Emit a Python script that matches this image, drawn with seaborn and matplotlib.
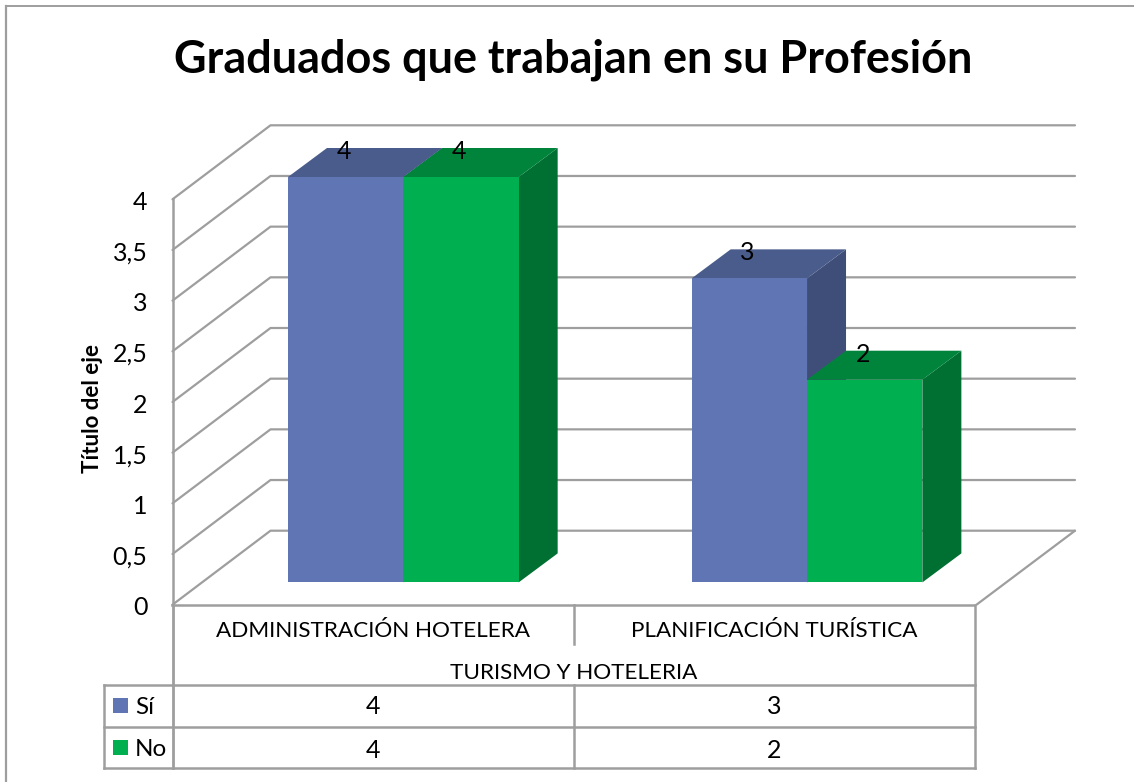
import matplotlib
matplotlib.use("Agg")
import matplotlib.pyplot as plt
import pandas as pd
import seaborn as sns
from matplotlib.lines import Line2D
from matplotlib.patches import Polygon, Rectangle
from matplotlib.transforms import Affine2D, IdentityTransform

categories = ["ADMINISTRACIÓN HOTELERA", "PLANIFICACIÓN TURÍSTICA"]
group_label = "TURISMO Y HOTELERIA"
series_names = ["Sí", "No"]
si_values = [4, 3]
no_values = [4, 2]
y_ticks = [0, 0.5, 1, 1.5, 2, 2.5, 3, 3.5, 4]
y_tick_labels = ["0", "0,5", "1", "1,5", "2", "2,5", "3", "3,5", "4"]
title = "Graduados que trabajan en su Profesión"
y_title = "Título del eje"

colors = {"Sí": "#6076B4", "No": "#00B050"}
top_colors = {"Sí": "#4A5C8B", "No": "#00843C"}
side_colors = {"Sí": "#3F4E78", "No": "#006F32"}
GRID = "#9E9E9E"
W, H = 1134, 782
FONT = "Lato"

sns.set_theme(style="white")
plt.rcParams["font.family"] = [FONT, "DejaVu Sans"]

fig = plt.figure(figsize=(W / 100, H / 100), dpi=100, facecolor="white")
LEFT, RIGHT, FLOOR, TOP = 172.5, 974.5, 604.7, 199.3
ax = fig.add_axes([LEFT / W, (H - FLOOR) / H, (RIGHT - LEFT) / W, (FLOOR - TOP) / H])
ax.patch.set_alpha(0)

df = pd.DataFrame({
    "cat": categories * 2,
    "serie": [series_names[0]] * 2 + [series_names[1]] * 2,
    "val": si_values + no_values,
})
sns.barplot(data=df, x="cat", y="val", hue="serie", hue_order=series_names,
            palette=colors, saturation=1, width=0.5714, gap=0, legend=False,
            ax=ax, zorder=3, linewidth=0)

ax.set_ylim(0, 4)
ax.set_xlim(-0.4967, 1.4899)
ax.set_yticks(y_ticks, y_tick_labels)
ax.set_xticks([])
ax.set_xlabel("")
ax.set_ylabel(y_title, fontsize=16, fontweight="bold", color="black", labelpad=7, y=0.485)
ax.tick_params(axis="y", length=0, pad=18, labelsize=18, labelcolor="black")
for lab in ax.get_yticklabels():
    lab.set_transform(lab.get_transform() + Affine2D().translate(0, -1))
for s in ["top", "right"]:
    ax.spines[s].set_visible(False)
for s in ["left", "bottom"]:
    ax.spines[s].set_color(GRID)
    ax.spines[s].set_linewidth(1.8)

fig.canvas.draw()


def line(xs, ys, lw=1.6, z=1):
    fig.add_artist(Line2D(xs, [H - v for v in ys], transform=IdentityTransform(),
                          color=GRID, lw=lw, zorder=z, solid_capstyle="projecting"))


# wall and floor grid
WALL_DX, WALL_DY = 98, 74
BACK_RIGHT = 1075
for t in y_ticks:
    _, yd = ax.transData.transform((0, t))
    xb = LEFT + WALL_DX
    yb = yd + WALL_DY
    ax.add_line(Line2D([LEFT, xb, BACK_RIGHT], [yd, yb, yb], transform=IdentityTransform(),
                       color=GRID, lw=1.6, zorder=1, clip_on=False))
ax.add_line(Line2D([BACK_RIGHT, RIGHT + 2], [H - FLOOR + WALL_DY, H - FLOOR],
                   transform=IdentityTransform(), color=GRID, lw=1.6, zorder=1, clip_on=False))

# 3D bars
DX, DY = 30.3, 22.3
DEPTH_X, DEPTH_Y = 39, 29
shift = Affine2D().translate(DX, DY)
for name, container in zip(series_names, ax.containers):
    for rect in container:
        x0, w = rect.get_x(), rect.get_width()
        h = rect.get_height()
        (xa, ya) = ax.transData.transform((x0, 0)) + (DX, DY)
        (xb, yb) = ax.transData.transform((x0 + w, h)) + (DX, DY)
        rect.set_transform(ax.transData + shift)
        rect.set_clip_on(False)
        z = 3 if name == series_names[0] else 4
        rect.set_zorder(z + 0.5)
        ax.add_patch(Polygon([(xb, ya), (xb + DEPTH_X, ya + DEPTH_Y),
                              (xb + DEPTH_X, yb + DEPTH_Y), (xb, yb)],
                             closed=True, fc=side_colors[name], ec="none",
                             transform=IdentityTransform(), clip_on=False, zorder=z))
        ax.add_patch(Polygon([(xa, yb), (xa + DEPTH_X, yb + DEPTH_Y),
                              (xb + DEPTH_X, yb + DEPTH_Y), (xb, yb)],
                             closed=True, fc=top_colors[name], ec="none",
                             transform=IdentityTransform(), clip_on=False, zorder=z + 0.2))
        ax.text((xa + xb) / 2 - 2, yb + 25.5, f"{h:g}", transform=IdentityTransform(),
                ha="center", va="center", fontsize=18, color="black", zorder=6, clip_on=False)

# data table
ROW0, ROW1, ROW2, ROW3 = 685.3, 727.3, 768.3, 644.3
MID, TBL = 573.5, 104.3
line([LEFT, LEFT], [FLOOR, ROW2], lw=2)
line([RIGHT, RIGHT], [FLOOR, ROW2], lw=1.8)
line([MID, MID], [FLOOR, ROW3], lw=1.8)
line([MID, MID], [ROW0, ROW2], lw=1.8)
line([TBL, TBL], [ROW0, ROW2], lw=1.8)
for r in (ROW0, ROW1, ROW2):
    line([TBL, RIGHT], [r, r], lw=1.8)


def label(x, y, s, ha="center", size=18):
    return fig.text(x / W, (H - y) / H, s, ha=ha, va="center", fontsize=size, color="black")


for xc, cat, si, no in zip([373, 774.5], categories, si_values, no_values):
    label(xc, 631, cat, size=16.2)
    label(xc, 707, f"{si:g}")
    label(xc, 750, f"{no:g}")
label(574, 673, group_label, size=16.2)
for yc, name in zip([705.5, 747.5], series_names):
    fig.add_artist(Rectangle((113, H - yc - 7.5), 15, 15, transform=IdentityTransform(),
                             fc=colors[name], ec="none"))
    label(135, yc + 1.5, name, ha="left", size=17.5)

# chart frame and title
line([6, 6], [6, H + 2], lw=1.6)
line([6, 1134], [6, 6], lw=1.4)
label(573, 60, title, size=32.4).set_fontweight("bold")

fig.savefig("out.png", dpi=100)
